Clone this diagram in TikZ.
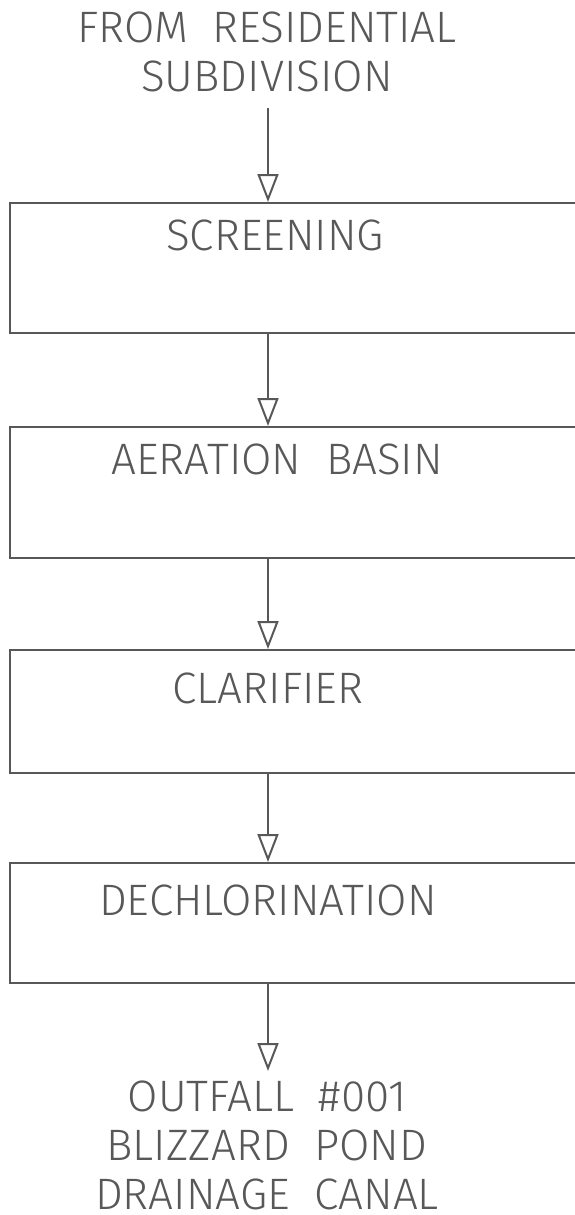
\documentclass[tikz,border=0pt]{standalone}
\usepackage{fontspec}
\setmainfont{Fira Sans}[UprightFont=* Light, WordSpace=2]
\usepackage{tikz}
\usetikzlibrary{arrows.meta}
\usepackage{xcolor}
\definecolor{cad-grey}{RGB}{88,88,88}
\tikzstyle{stage}=[draw=cad-grey, line width=2pt, anchor=north west, minimum width=600pt, inner sep=0pt]
\tikzstyle{tag}=[text=cad-grey, font=\fontsize{44}{49}\selectfont, anchor=base, inner sep=0pt, text depth=0pt, align=center]
\tikzstyle{flow}=[draw=cad-grey, line width=2pt, -{Triangle[open, length=28pt, width=21pt]}]
\newcommand{\stageBox}[6]{
	\node[stage, minimum height=#3pt] (#1) at (9,#2) {};
	\node[tag] (#1-text) at (#4,#5) {#6};
}

\begin{document}
\begin{tikzpicture}[x=1pt, y=-1pt]
	\useasboundingbox (0,0) rectangle (575,1215);
	% last line of each text block sits on the given baseline
	\node[tag] (source) at (267,92) {FROM RESIDENTIAL\\SUBDIVISION};
	\coordinate (inlet) at (268,108);
	\stageBox{screening}{202}{130}{275}{250}{SCREENING}
	\stageBox{aeration}{426}{131}{277}{474}{AERATION BASIN}
	\stageBox{clarifier}{649}{123}{268}{703}{CLARIFIER}
	\stageBox{dechlor}{862}{120}{268}{915}{DECHLORINATION}
	\coordinate (outlet) at (268,1071);
	\node[tag] (outfall) at (267,1209) {OUTFALL \#001\\BLIZZARD POND\\DRAINAGE CANAL};
	\draw[flow] (inlet) -- (screening.north -| inlet);
	\draw[flow] (screening.south -| inlet) -- (aeration.north -| inlet);
	\draw[flow] (aeration.south -| inlet) -- (clarifier.north -| inlet);
	\draw[flow] (clarifier.south -| inlet) -- (dechlor.north -| inlet);
	\draw[flow] (dechlor.south -| inlet) -- (outlet);
\end{tikzpicture}
\end{document}
